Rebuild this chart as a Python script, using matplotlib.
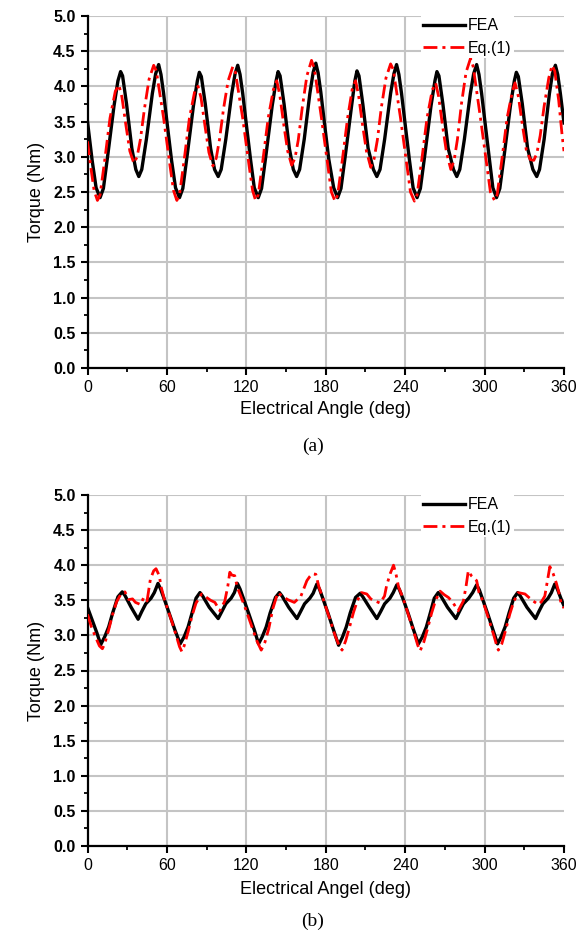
import matplotlib
matplotlib.use("Agg")
import matplotlib.pyplot as plt
from matplotlib.ticker import MultipleLocator, FormatStrFormatter

plt.rcParams['font.family'] = ['Liberation Sans', 'DejaVu Sans']

# ---- (a) torque, FEA ----
fea_a_deg = [0, 3.5, 6.5, 9.5, 12, 15.5, 20, 23, 25, 26.5, 29.5, 33.5, 36.5, 38.75, 41, 44.5, 49, 51.5, 53.75, 55.5, 57.5, 60, 63.5, 66.5,
             69.5, 72, 75.5, 80, 83, 84.5, 86, 89, 93, 96, 98.75, 101, 104.5, 109, 111.5, 113.5, 115.25, 117.25, 119.75, 123.25, 126,
             129, 131.5, 135, 139.5, 142.5, 144, 145.5, 148.5, 152.5, 155.5, 158, 160.25, 163.75, 168, 170.5, 172.5, 174.25, 176.25, 178.75, 182.25, 186,
             189, 191.5, 195, 199.5, 202, 203.6, 205.1, 208, 212, 216, 218.6, 221, 224.5, 229, 231.5, 233.5, 235.25, 237.25, 239.75, 243.25, 246,
             249, 251.5, 255, 259.5, 262.5, 264, 265.5, 268.5, 272.5, 276.5, 279, 281.25, 284.75, 289.25, 291.75, 294, 295.75, 297.75, 300.25, 303.75, 306.25,
             309, 311.5, 315, 319.5, 322.5, 324, 325.5, 328.5, 332.5, 336.5, 339.4, 341.5, 345, 349, 351.25, 353.5, 355.25, 357.25, 360]
fea_a = [3.50, 2.95, 2.56, 2.42, 2.55, 3.05, 3.72, 4.08, 4.21, 4.15, 3.75, 3.12, 2.82, 2.72, 2.82, 3.25, 3.90, 4.18, 4.31, 4.17, 3.90, 3.50, 2.95, 2.56,
         2.42, 2.55, 3.05, 3.72, 4.08, 4.20, 4.14, 3.75, 3.12, 2.82, 2.72, 2.82, 3.25, 3.90, 4.18, 4.30, 4.17, 3.90, 3.50, 2.95, 2.56,
         2.42, 2.55, 3.05, 3.72, 4.08, 4.21, 4.15, 3.75, 3.12, 2.82, 2.72, 2.82, 3.25, 3.90, 4.20, 4.33, 4.19, 3.92, 3.52, 2.97, 2.56,
         2.42, 2.55, 3.05, 3.72, 4.08, 4.22, 4.15, 3.75, 3.12, 2.82, 2.72, 2.82, 3.25, 3.90, 4.18, 4.31, 4.17, 3.90, 3.50, 2.95, 2.56,
         2.42, 2.55, 3.05, 3.72, 4.08, 4.21, 4.15, 3.75, 3.12, 2.82, 2.72, 2.82, 3.25, 3.90, 4.18, 4.31, 4.17, 3.90, 3.50, 2.95, 2.56,
         2.42, 2.55, 3.05, 3.72, 4.08, 4.20, 4.14, 3.75, 3.12, 2.82, 2.72, 2.82, 3.25, 3.90, 4.18, 4.30, 4.17, 3.90, 3.48]

# ---- (a) torque, Eq.(1) ----
eq_a_deg = [0, 2.5, 5, 7.5, 9.5, 13, 17, 21, 23.75, 26, 29, 32, 35, 37.5, 40, 43, 46.5, 50, 52, 55, 57.5, 60, 62.5, 65,
            67.5, 69.5, 73, 77, 81, 83.5, 85.75, 88.75, 91.75, 94.75, 97.25, 99.75, 102.75, 106.25, 109.75, 111.75, 114.75, 117.25, 119.75, 122.25, 124.75,
            127, 129, 132.5, 136.5, 140.5, 143, 145.25, 148.25, 151.25, 154.25, 156.75, 159.25, 162.25, 165.75, 169.25, 171.25, 174.25, 176.75, 179.25, 181.75, 184.25,
            187, 189, 192.5, 196.5, 200, 202.5, 204.75, 207.75, 210.75, 214, 216.5, 219, 222, 225.5, 229, 231, 234, 236.5, 239, 241.5, 244,
            247, 249, 252.5, 256.5, 260.5, 263, 265.25, 268.25, 271.25, 274.5, 277, 279.5, 282.5, 286, 289.4, 291.4, 294.4, 296.9, 299.4, 301.9, 304.4,
            307.5, 309.5, 313, 317, 321, 323, 325.5, 328.5, 331.5, 334.5, 337.2, 339.5, 342, 345, 348.5, 351, 353, 356, 358.6, 360]
eq_a = [3.22, 2.85, 2.52, 2.38, 2.46, 2.95, 3.55, 3.93, 4.02, 3.85, 3.45, 3.08, 2.91, 3.00, 3.25, 3.68, 4.10, 4.30, 4.22, 3.85, 3.55, 3.20, 2.85, 2.52,
        2.38, 2.46, 2.95, 3.55, 3.93, 4.00, 3.84, 3.44, 3.06, 2.87, 2.98, 3.25, 3.68, 4.08, 4.28, 4.20, 3.85, 3.55, 3.20, 2.85, 2.52,
        2.38, 2.46, 2.95, 3.55, 3.96, 4.08, 3.88, 3.46, 3.08, 2.88, 2.98, 3.24, 3.70, 4.15, 4.37, 4.26, 3.88, 3.55, 3.20, 2.85, 2.50,
        2.37, 2.46, 2.95, 3.55, 3.96, 4.08, 3.88, 3.46, 3.08, 2.85, 2.97, 3.24, 3.70, 4.12, 4.32, 4.24, 3.86, 3.55, 3.20, 2.85, 2.50,
        2.37, 2.46, 2.95, 3.55, 3.95, 4.05, 3.86, 3.44, 3.06, 2.82, 2.95, 3.25, 3.75, 4.20, 4.40, 4.28, 3.88, 3.55, 3.20, 2.85, 2.50,
        2.38, 2.46, 2.95, 3.55, 3.93, 4.05, 3.86, 3.46, 3.10, 2.96, 2.95, 3.05, 3.30, 3.72, 4.12, 4.30, 4.22, 3.80, 3.30, 3.08]

# ---- (b) torque, FEA ----
fea_b_deg = [0, 3.5, 7, 10, 13, 16, 19, 23, 26.25, 28.25, 33, 38.25, 41, 44, 48, 50.5, 53.25, 55.25, 58.5, 62, 66,
             70, 73, 76, 79, 82, 85, 87, 92, 98.75, 101.5, 104.5, 108.5, 111, 113.25, 115.25, 118.5, 122, 126,
             129.25, 132, 135, 138, 142, 145, 147, 152, 158.25, 161, 164, 168, 170.5, 173.25, 175.25, 178.5, 182, 186,
             189.7, 192.5, 195.5, 198.5, 202.5, 206, 208, 213, 218.6, 221.5, 224.5, 228.5, 231, 233.7, 235.7, 239, 242.5, 246.5,
             250, 253, 256, 259, 262, 265, 267, 272, 278.4, 281, 284, 288, 291, 294, 296, 299, 302.5, 306.5,
             309.8, 312.5, 315.5, 318.5, 322, 325, 327, 332, 338.5, 341, 344, 348, 350.5, 353, 355, 358, 360]
fea_b = [3.40, 3.22, 3.04, 2.87, 2.98, 3.12, 3.32, 3.55, 3.62, 3.57, 3.40, 3.23, 3.34, 3.45, 3.53, 3.61, 3.74, 3.66, 3.49, 3.30, 3.08,
         2.88, 2.98, 3.12, 3.32, 3.53, 3.61, 3.56, 3.40, 3.24, 3.34, 3.45, 3.53, 3.61, 3.74, 3.66, 3.49, 3.30, 3.08,
         2.88, 2.98, 3.12, 3.32, 3.54, 3.61, 3.56, 3.40, 3.24, 3.34, 3.45, 3.53, 3.60, 3.73, 3.66, 3.49, 3.30, 3.07,
         2.86, 2.97, 3.12, 3.32, 3.54, 3.60, 3.55, 3.40, 3.24, 3.34, 3.45, 3.53, 3.61, 3.72, 3.65, 3.49, 3.30, 3.07,
         2.88, 2.98, 3.12, 3.32, 3.53, 3.61, 3.56, 3.40, 3.24, 3.34, 3.45, 3.53, 3.61, 3.72, 3.65, 3.49, 3.30, 3.07,
         2.88, 2.98, 3.12, 3.32, 3.53, 3.61, 3.56, 3.40, 3.24, 3.34, 3.45, 3.53, 3.61, 3.73, 3.66, 3.51, 3.42]

# ---- (b) torque, Eq.(1) ----
eq_b_deg = [0, 3, 6, 9, 11.25, 13, 16, 19, 22, 25, 28.25, 31.25, 34, 36.25, 40, 42.5, 45, 47.5, 50, 51.75, 54.25, 55.5, 58, 61, 64, 67, 69.5,
            71.25, 73, 76, 79, 82, 86.25, 90, 93, 96.25, 100, 103.75, 106, 107.5, 109, 111.25, 113.25, 116, 119, 122, 125, 128,
            131.25, 134, 137, 140, 143.75, 147, 151.25, 156.25, 161.25, 165.75, 168, 170, 172.5, 175, 178, 181, 184, 187, 190,
            192.3, 195, 198, 201, 204, 207, 211, 214, 217.4, 221, 224.4, 226, 228.7, 231.2, 233, 235, 238, 241, 244, 247, 249.5,
            251.3, 254, 257, 260, 263, 266.4, 269.5, 272.7, 276, 280, 284, 286, 287.7, 290, 294, 295.8, 298, 301, 304, 307, 308.8,
            310.4, 313, 316, 319, 322, 325.4, 330.5, 333.5, 336.7, 340.5, 343, 345.5, 347.5, 349.3, 351.8, 354.3, 356, 358, 360]
eq_b = [3.30, 3.12, 2.98, 2.85, 2.81, 2.88, 3.08, 3.30, 3.48, 3.58, 3.62, 3.51, 3.52, 3.47, 3.44, 3.54, 3.49, 3.80, 3.92, 3.95, 3.85, 3.70, 3.52, 3.35, 3.18, 3.00, 2.84,
        2.77, 2.85, 3.05, 3.28, 3.46, 3.59, 3.54, 3.50, 3.47, 3.35, 3.49, 3.70, 3.90, 3.86, 3.85, 3.68, 3.55, 3.40, 3.24, 3.08, 2.92,
        2.79, 2.90, 3.10, 3.38, 3.61, 3.56, 3.51, 3.47, 3.56, 3.78, 3.84, 3.88, 3.87, 3.68, 3.52, 3.35, 3.18, 3.00, 2.86,
        2.79, 2.92, 3.12, 3.33, 3.50, 3.61, 3.59, 3.52, 3.49, 3.46, 3.56, 3.71, 3.88, 4.00, 3.88, 3.69, 3.55, 3.38, 3.20, 3.02, 2.86,
        2.78, 2.90, 3.10, 3.32, 3.50, 3.63, 3.58, 3.54, 3.47, 3.35, 3.49, 3.70, 3.92, 3.85, 3.78, 3.61, 3.52, 3.36, 3.18, 3.00, 2.88,
        2.79, 2.88, 3.08, 3.30, 3.48, 3.61, 3.59, 3.54, 3.49, 3.44, 3.48, 3.56, 3.78, 3.98, 3.88, 3.74, 3.62, 3.44, 3.39]

x_ticks = [0, 60, 120, 180, 240, 300, 360]
panels = [
    (fea_a_deg, fea_a, eq_a_deg, eq_a, 'Electrical Angle (deg)', '(a)'),
    (fea_b_deg, fea_b, eq_b_deg, eq_b, 'Electrical Angel (deg)', '(b)'),
]

fig = plt.figure(figsize=(5.78, 9.40), dpi=100)
W, H = 578.0, 940.0
boxes = [(87.5, 16, 564, 368), (87.5, 495, 564, 846)]
captions_y = [446, 921]
xlabel_y = [410, 890]

for (fd, fv, ed, ev, xlab, cap), (x0, y0, x1, y1), cy, xy in zip(panels, boxes, captions_y, xlabel_y):
    ax = fig.add_axes([x0 / W, 1 - y1 / H, (x1 - x0) / W, (y1 - y0) / H])
    ax.plot(fd, fv, color='black', lw=2.4, label='FEA', zorder=3)
    ax.plot(ed, ev, color='red', lw=2.0, linestyle=(0, (5, 1.8, 1.1, 1.8)), label='Eq.(1)', zorder=4)

    ax.set_xlim(0, 360)
    ax.set_ylim(0, 5)
    ax.set_xticks(x_ticks)
    ax.xaxis.set_minor_locator(MultipleLocator(30))
    ax.yaxis.set_major_locator(MultipleLocator(0.5))
    ax.yaxis.set_minor_locator(MultipleLocator(0.25))
    ax.yaxis.set_major_formatter(FormatStrFormatter('%.1f'))

    for s in ['top', 'right']:
        ax.spines[s].set_visible(False)
    for s in ['left', 'bottom']:
        ax.spines[s].set_linewidth(1.6)

    ax.tick_params(which='major', direction='out', length=5, width=1.5, labelsize=11.5)
    ax.tick_params(which='minor', direction='out', length=3, width=1.3)
    for lbl in ax.get_yticklabels():
        lbl.set_fontweight('bold')

    ax.grid(True, which='major', color='#c4c4c4', lw=1.5, zorder=0)
    ax.set_axisbelow(True)
    xg = ax.get_xgridlines()
    xg[0].set_visible(False)
    xg[-1].set_visible(False)
    yg = ax.get_ygridlines()
    yg[0].set_visible(False)
    yg[-1].set_visible(False)

    ax.set_ylabel('Torque (Nm)', fontsize=13, labelpad=6)
    fig.text((87.5 + 564) / 2 / W, 1 - xy / H, xlab, fontsize=13, ha='center', va='center')
    fig.text(313 / W, 1 - cy / H, cap, fontsize=14, ha='center', va='center', family='Liberation Serif')

    leg = ax.legend(loc='upper right', bbox_to_anchor=(0.895, 1.0), fontsize=11.5, handlelength=2.6,
                    frameon=True, fancybox=False, borderaxespad=0, borderpad=0.15,
                    labelspacing=0.45, handletextpad=0.2)
    leg.get_frame().set_edgecolor('none')
    leg.get_frame().set_facecolor('white')
    leg.get_frame().set_alpha(1)

fig.savefig('out.png', dpi=100)
